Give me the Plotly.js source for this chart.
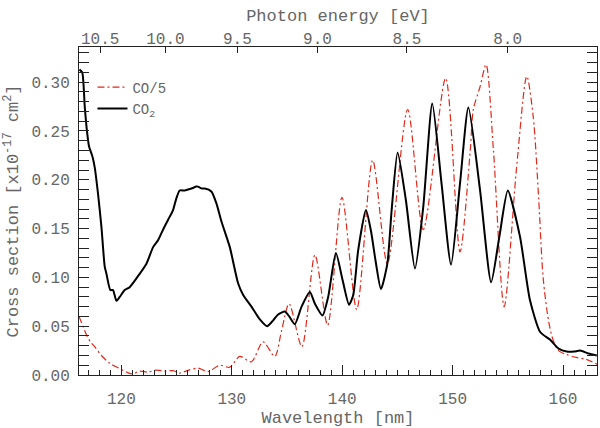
<!DOCTYPE html>
<html>
<head>
<meta charset="utf-8">
<script src="https://cdn.plot.ly/plotly-3.0.1.min.js"></script>
<style>html,body{margin:0;padding:0;background:#fff;}#chart{width:600px;height:428px;}</style>
</head>
<body>
<div id="chart"></div>
<script>
// CO2 cross section (x1e-17 cm^2) vs wavelength (nm)
var co2Wavelength = [116.2,116.45,116.68,116.88,117.07,117.37,117.58,117.88,118.19,118.49,118.64,119.0,119.24,119.55,119.85,120.3,120.75,121.36,122.27,122.87,123.32,123.78,124.23,124.68,124.98,125.28,125.73,126.34,126.79,126.94,127.3,127.55,128.15,128.6,129.07,129.82,130.57,131.03,131.78,132.54,133.2,133.75,134.2,134.8,135.2,135.71,136.32,137.07,137.53,138.22,138.73,139.43,140.04,140.62,141.0,141.45,142.15,142.6,143.05,143.51,144.09,144.48,145.02,145.77,146.59,147.34,148.16,149.0,149.86,150.67,151.43,152.48,153.49,154.24,155.0,156.1,157.0,157.93,158.84,159.6,160.34,161.0,161.55,162.3,163.06];
var co2Value = [0.313,0.310,0.275,0.250,0.234,0.224,0.213,0.186,0.152,0.111,0.104,0.087,0.087,0.076,0.080,0.087,0.090,0.099,0.114,0.131,0.138,0.149,0.159,0.169,0.181,0.189,0.189,0.191,0.193,0.193,0.191,0.191,0.188,0.176,0.157,0.131,0.094,0.082,0.070,0.057,0.050,0.056,0.062,0.065,0.060,0.052,0.070,0.085,0.073,0.061,0.080,0.125,0.097,0.072,0.082,0.128,0.169,0.148,0.115,0.088,0.114,0.169,0.228,0.179,0.109,0.172,0.278,0.196,0.113,0.196,0.274,0.190,0.095,0.142,0.189,0.142,0.077,0.044,0.036,0.027,0.024,0.024,0.025,0.022,0.020];

// CO cross section divided by 5
var coWavelength = [116.16,116.52,116.88,117.2,117.58,118.19,118.94,119.69,120.45,121.0,121.66,122.4,123.17,123.9,124.68,125.28,126.1,126.94,127.85,128.9,129.82,130.72,131.78,132.83,133.89,134.5,135.19,136.35,137.53,138.68,139.98,141.31,142.76,144.09,145.93,147.34,149.37,150.67,151.6,151.88,152.48,153.03,153.7,154.67,155.8,156.72,157.3,157.8,158.2,158.7,159.1,159.6,160.3,161.2,162.1,163.1];
var coValue = [0.060,0.050,0.040,0.034,0.029,0.020,0.012,0.0075,0.003,0.001,0.004,0.003,0.005,0.004,0.0045,0.002,0.005,0.007,0.0035,0.010,0.008,0.019,0.0136,0.034,0.019,0.045,0.073,0.029,0.123,0.051,0.182,0.067,0.220,0.114,0.272,0.149,0.304,0.126,0.230,0.272,0.295,0.318,0.230,0.070,0.213,0.306,0.265,0.180,0.100,0.055,0.036,0.025,0.021,0.018,0.016,0.011];

// Top axis: photon energy ticks
var energyTicks = [10.5, 10.0, 9.5, 9.0, 8.5, 8.0];
var energyLabels = ['10.5', '10.0', '9.5', '9.0', '8.5', '8.0'];
var hc = 1239.84; // eV*nm

var seriesNames = ['CO/5', 'CO<sub>2</sub>'];

var xRange = [116.16, 163.08];
var yRange = [0, 0.336];
var txtColor = '#666666';
var axColor = '#222222';
var fontFam = '"Liberation Mono", "DejaVu Sans Mono", monospace';

var traces = [
  {x: coWavelength, y: coValue, name: seriesNames[0], mode: 'lines',
   line: {color: '#e0291b', width: 1.2, dash: '7px,3px,2px,3px', shape: 'spline', smoothing: 0.8}},
  {x: co2Wavelength, y: co2Value, name: seriesNames[1], mode: 'lines',
   line: {color: '#000000', width: 2, shape: 'spline', smoothing: 0.6}},
  {x: co2Wavelength, y: co2Value, xaxis: 'x2', mode: 'lines', opacity: 0,
   showlegend: false, hoverinfo: 'skip', line: {width: 0}}
];

var layout = {
  width: 600, height: 428,
  margin: {l: 79, r: 3, t: 47, b: 53},
  paper_bgcolor: '#ffffff', plot_bgcolor: '#ffffff',
  font: {family: fontFam, color: txtColor, size: 16},
  showlegend: true,
  legend: {x: 0.026, y: 0.925, xanchor: 'left', yanchor: 'top', bgcolor: 'rgba(0,0,0,0)',
           font: {size: 14, color: txtColor, family: fontFam}, tracegroupgap: 0},
  xaxis: {
    range: xRange, dtick: 10, tick0: 0, ticks: 'inside', ticklen: 10, tickwidth: 1, tickcolor: axColor,
    showline: true, linecolor: axColor, linewidth: 1, mirror: true, showgrid: false, zeroline: false,
    minor: {dtick: 1, ticks: 'inside', ticklen: 5, tickcolor: axColor, showgrid: false},
    tickfont: {size: 16, color: txtColor}, ticklabelstandoff: 9,
    title: {text: 'Wavelength [nm]', font: {size: 17, color: txtColor}, standoff: 10}
  },
  xaxis2: {
    overlaying: 'x', side: 'top', range: xRange, anchor: 'y',
    tickmode: 'array', tickvals: energyTicks.map(function(e){return hc / e;}), ticktext: energyLabels,
    ticks: 'inside', ticklen: 6, tickwidth: 1, tickcolor: axColor,
    showline: true, linecolor: axColor, showgrid: false, zeroline: false,
    tickfont: {size: 16, color: txtColor}, ticklabelstandoff: -4,
    title: {text: 'Photon energy [eV]', font: {size: 17, color: txtColor}, standoff: 4}
  },
  yaxis: {
    range: yRange, dtick: 0.05, tick0: 0, tickformat: '.2f', ticks: 'inside', ticklen: 10, tickwidth: 1,
    tickcolor: axColor, showline: true, linecolor: axColor, linewidth: 1, mirror: 'allticks',
    showgrid: false, zeroline: false, ticklabelstandoff: 5,
    minor: {dtick: 0.01, ticks: 'inside', ticklen: 5, tickcolor: axColor, showgrid: false},
    tickfont: {size: 16, color: txtColor},
    title: {text: 'Cross section [x10<sup>-17</sup> cm<sup>2</sup>]', font: {size: 17, color: txtColor}, standoff: 8}
  }
};

Plotly.newPlot('chart', traces, layout, {displayModeBar: false, staticPlot: true});
</script>
</body>
</html>
